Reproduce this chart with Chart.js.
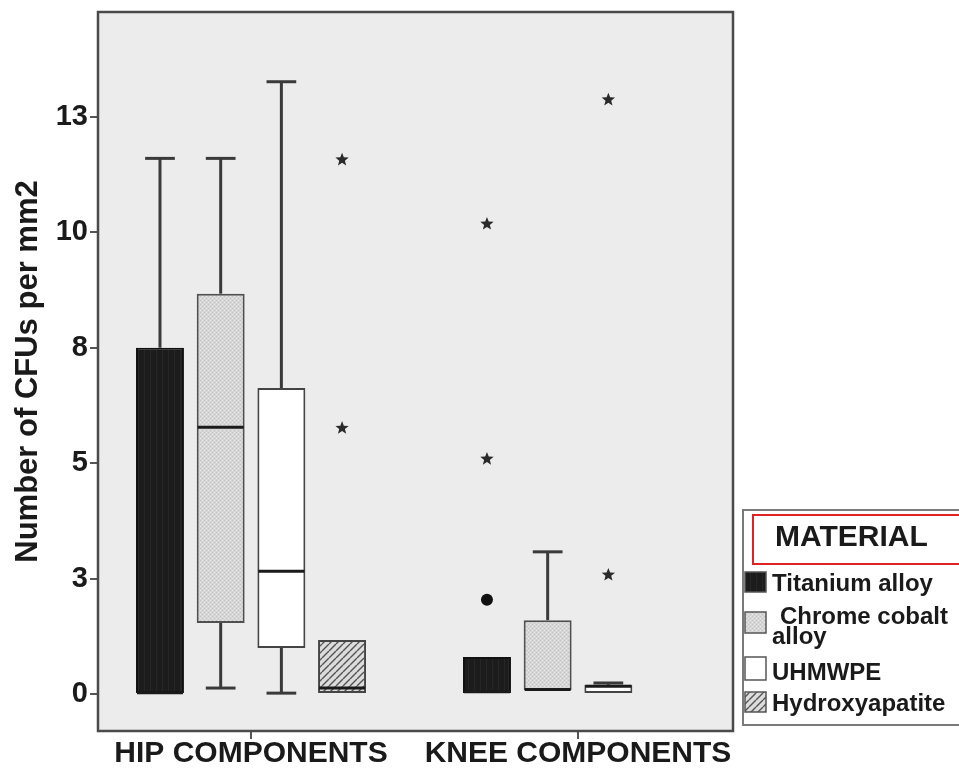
<!DOCTYPE html>
<html>
<head>
<meta charset="utf-8">
<script src="https://cdn.jsdelivr.net/npm/chart.js@4.4.1/dist/chart.umd.min.js"></script>
<style>
  html, body { margin: 0; padding: 0; background: #ffffff; }
  #wrap { width: 959px; height: 776px; }
</style>
</head>
<body>
<div id="wrap"><canvas id="chart" width="959" height="776"></canvas></div>
<script>
// ---- data ----
const categories = ['HIP COMPONENTS', 'KNEE COMPONENTS'];
const materials = ['Titanium alloy', 'Chrome cobalt alloy', 'UHMWPE', 'Hydroxyapatite'];
const yTickValues = [0, 2.5, 5, 7.5, 10, 12.5];
const yTickLabels = ['0', '3', '5', '8', '10', '13'];
const yAxisTitle = 'Number of CFUs per mm2';
const legendTitle = 'MATERIAL';

// box summaries per category: [lower whisker, Q1, median, Q3, upper whisker]; null = no box
const titaniumStats       = [[0, 0, 0.03, 7.5, 11.6],        [0, 0, 0.05, 0.8, 0.8]];
const chromeCobaltStats   = [[0.13, 1.54, 5.78, 8.67, 11.6], [0.09, 0.09, 0.1, 1.6, 3.08]];
const uhmwpeStats         = [[0.02, 1.0, 2.66, 6.63, 13.26], [0, 0, 0.17, 0.2, 0.24]];
const hydroxyapatiteStats = [[0, 0, 0.13, 1.17, 1.17],       null];

// outliers (circles) and extreme values (stars) per category
const titaniumOutliers       = [[], [2.04]];
const titaniumExtremes       = [[], [5.09, 10.18]];
const chromeCobaltOutliers   = [[], []];
const chromeCobaltExtremes   = [[], []];
const uhmwpeOutliers         = [[], []];
const uhmwpeExtremes         = [[], [12.87, 2.58]];
const hydroxyapatiteOutliers = [[], []];
const hydroxyapatiteExtremes = [[11.57, 5.76], []];

// ---- fills ----
function makePattern(size, paint) {
  const c = document.createElement('canvas');
  c.width = size; c.height = size;
  const g = c.getContext('2d');
  paint(g, size);
  return document.getElementById('chart').getContext('2d').createPattern(c, 'repeat');
}
const titaniumFill = makePattern(6, (g, s) => {
  g.fillStyle = '#1c1c1c'; g.fillRect(0, 0, s, s);
  g.fillStyle = '#262626'; g.fillRect(0, 0, 1, s);
});
const chromeFill = makePattern(4, (g, s) => {
  g.fillStyle = '#d6d6d6'; g.fillRect(0, 0, s, s);
  g.fillStyle = '#c2c2c2'; g.fillRect(0, 0, 1, 1); g.fillRect(2, 2, 1, 1);
  g.fillStyle = '#e6e6e6'; g.fillRect(2, 0, 1, 1); g.fillRect(0, 2, 1, 1);
});
const uhmwpeFill = '#ffffff';
const hydroxyFill = makePattern(7, (g, s) => {
  g.fillStyle = '#dcdcdc'; g.fillRect(0, 0, s, s);
  g.strokeStyle = '#555555'; g.lineWidth = 1.4;
  for (let k = -1; k <= 1; k++) {
    g.beginPath(); g.moveTo(k * s, s); g.lineTo(k * s + s, 0); g.stroke();
  }
});

function boxData(stats, outliers, extremes) {
  const out = [];
  stats.forEach((s, i) => {
    if (!s) return;
    out.push({ x: i + 1, y: [s[1], s[3]], stats: s, outliers: outliers[i], extremes: extremes[i] });
  });
  return out;
}

const datasets = [
  { label: materials[0], data: boxData(titaniumStats, titaniumOutliers, titaniumExtremes),
    backgroundColor: titaniumFill, borderColor: '#111111', legendFill: titaniumFill },
  { label: materials[1], data: boxData(chromeCobaltStats, chromeCobaltOutliers, chromeCobaltExtremes),
    backgroundColor: chromeFill, borderColor: '#505050', legendFill: chromeFill },
  { label: materials[2], data: boxData(uhmwpeStats, uhmwpeOutliers, uhmwpeExtremes),
    backgroundColor: uhmwpeFill, borderColor: '#444444', legendFill: uhmwpeFill },
  { label: materials[3], data: boxData(hydroxyapatiteStats, hydroxyapatiteOutliers, hydroxyapatiteExtremes),
    backgroundColor: hydroxyFill, borderColor: '#444444', legendFill: hydroxyFill }
].map(d => Object.assign(d, {
  borderWidth: 2, borderSkipped: false,
  categoryPercentage: 0.7425, barPercentage: 0.79
}));

// ---- drawing helpers ----
function drawStar(ctx, x, y, rOut, rIn) {
  ctx.beginPath();
  for (let k = 0; k < 10; k++) {
    const r = k % 2 === 0 ? rOut : rIn;
    const a = -Math.PI / 2 + k * Math.PI / 5;
    const px = x + r * Math.cos(a), py = y + r * Math.sin(a);
    if (k === 0) ctx.moveTo(px, py); else ctx.lineTo(px, py);
  }
  ctx.closePath();
  ctx.fill();
}

const FONT = '"Liberation Sans", Arial, sans-serif';

const boxPlotPlugin = {
  id: 'boxPlotParts',
  beforeDraw(chart) {
    const { ctx, chartArea: a } = chart;
    ctx.save();
    ctx.fillStyle = '#ffffff';
    ctx.fillRect(0, 0, chart.width, chart.height);
    ctx.fillStyle = '#ececec';
    ctx.fillRect(a.left, a.top, a.right - a.left, a.bottom - a.top);
    ctx.restore();
  },
  beforeDatasetsDraw(chart) {
    // whiskers with end caps
    const { ctx } = chart;
    const y = chart.scales.y;
    ctx.save();
    ctx.strokeStyle = '#3a3a3a';
    ctx.lineWidth = 3;
    chart.data.datasets.forEach((ds, di) => {
      chart.getDatasetMeta(di).data.forEach((bar, j) => {
        const s = ds.data[j].stats;
        const cap = bar.width * 0.62;
        [[s[3], s[4]], [s[1], s[0]]].forEach(([from, to]) => {
          if (Math.abs(to - from) < 1e-9) return;
          const y0 = y.getPixelForValue(from), y1 = y.getPixelForValue(to);
          ctx.beginPath(); ctx.moveTo(bar.x, y0); ctx.lineTo(bar.x, y1); ctx.stroke();
          ctx.beginPath(); ctx.moveTo(bar.x - cap / 2, y1); ctx.lineTo(bar.x + cap / 2, y1); ctx.stroke();
        });
      });
    });
    ctx.restore();
  },
  afterDatasetsDraw(chart) {
    const { ctx, chartArea: a } = chart;
    const y = chart.scales.y;
    ctx.save();
    chart.data.datasets.forEach((ds, di) => {
      chart.getDatasetMeta(di).data.forEach((bar, j) => {
        const item = ds.data[j];
        const s = item.stats;
        // median
        const my = y.getPixelForValue(s[2]);
        ctx.strokeStyle = '#1a1a1a';
        ctx.lineWidth = 3;
        ctx.beginPath();
        ctx.moveTo(bar.x - bar.width / 2 + 1, my);
        ctx.lineTo(bar.x + bar.width / 2 - 1, my);
        ctx.stroke();
        // outliers and extremes
        ctx.fillStyle = '#111111';
        item.outliers.forEach(v => {
          ctx.beginPath();
          ctx.arc(bar.x, y.getPixelForValue(v), 6, 0, Math.PI * 2);
          ctx.fill();
        });
        ctx.fillStyle = '#2a2a2a';
        item.extremes.forEach(v => drawStar(ctx, bar.x, y.getPixelForValue(v), 7, 3));
      });
    });
    // plot frame
    ctx.strokeStyle = '#4a4a4a';
    ctx.lineWidth = 2.5;
    ctx.strokeRect(a.left, a.top, a.right - a.left, a.bottom - a.top);
    ctx.restore();
  },
  afterDraw(chart) {
    const { ctx, chartArea: a } = chart;
    ctx.save();
    // vertical axis title
    ctx.translate(28, (a.top + a.bottom) / 2);
    ctx.rotate(-Math.PI / 2);
    ctx.fillStyle = '#1a1a1a';
    ctx.font = 'bold 31px ' + FONT;
    ctx.textAlign = 'center';
    ctx.textBaseline = 'middle';
    ctx.fillText(yAxisTitle, 0, 0);
    ctx.restore();

    // material legend
    ctx.save();
    ctx.strokeStyle = '#7a7a7a';
    ctx.lineWidth = 2;
    ctx.strokeRect(743, 510, 240, 215);
    ctx.strokeStyle = '#e02222';
    ctx.strokeRect(753, 515, 230, 49);
    ctx.fillStyle = '#1a1a1a';
    ctx.font = 'bold 30px ' + FONT;
    ctx.textBaseline = 'alphabetic';
    ctx.fillText(legendTitle, 775, 546);

    ctx.font = 'bold 24px ' + FONT;
    const maxW = 186;
    const rowTops = [572, 612, 657, 692];
    const rowHeights = [20, 21, 23, 20];
    const baselines = [591, 624, 680, 711];
    chart.data.datasets.forEach((ds, i) => {
      ctx.fillStyle = ds.legendFill;
      ctx.fillRect(745, rowTops[i], 21, rowHeights[i]);
      ctx.strokeStyle = '#555555';
      ctx.lineWidth = 1.5;
      ctx.strokeRect(745, rowTops[i], 21, rowHeights[i]);
      // wrap label by width
      const words = ds.label.split(' ');
      const lines = [];
      let line = '';
      words.forEach(w => {
        const t = line ? line + ' ' + w : w;
        if (ctx.measureText(t).width > maxW && line) { lines.push(line); line = w; }
        else line = t;
      });
      lines.push(line);
      ctx.fillStyle = '#1a1a1a';
      lines.forEach((ln, k) => {
        const x = lines.length > 1 && k === 0 ? 780 : 772;
        ctx.fillText(ln, x, baselines[i] + k * 20);
      });
    });
    ctx.restore();
  }
};

new Chart(document.getElementById('chart'), {
  type: 'bar',
  data: { datasets },
  options: {
    responsive: false,
    animation: false,
    layout: { padding: { left: 0, top: 12, right: 226, bottom: 0 } },
    plugins: { legend: { display: false }, tooltip: { enabled: false } },
    scales: {
      x: {
        type: 'linear',
        offset: false,
        min: 0.532, max: 2.474,
        afterBuildTicks: s => { s.ticks = categories.map((c, i) => ({ value: i + 1 })); },
        afterFit: s => { s.height = 45; s.paddingLeft = 0; s.paddingRight = 0; },
        ticks: {
          callback: v => categories[v - 1],
          font: { family: FONT, weight: 'bold', size: 30 },
          color: '#1a1a1a', padding: -3, maxRotation: 0, autoSkip: false
        },
        grid: { offset: false, drawOnChartArea: false, tickLength: 8, color: '#555555', lineWidth: 2 },
        border: { display: false }
      },
      y: {
        type: 'linear',
        min: -0.8, max: 14.77,
        afterBuildTicks: s => { s.ticks = yTickValues.map(v => ({ value: v })); },
        afterFit: s => { s.width = 98; s.paddingTop = 0; s.paddingBottom = 0; },
        ticks: {
          callback: (v, i) => yTickLabels[i],
          font: { family: FONT, weight: 'bold', size: 29 },
          color: '#1a1a1a', padding: 2
        },
        grid: { drawOnChartArea: false, tickLength: 8, color: '#555555', lineWidth: 2 },
        border: { display: false }
      }
    }
  },
  plugins: [boxPlotPlugin]
});
</script>
</body>
</html>
